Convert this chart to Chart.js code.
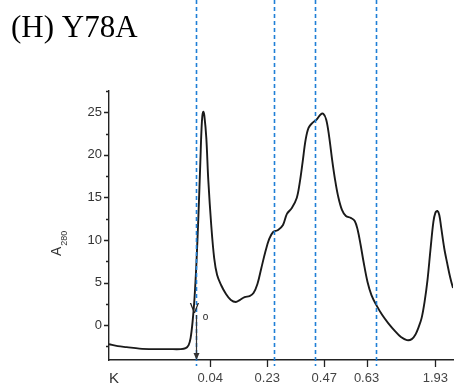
<!DOCTYPE html>
<html>
<head>
<meta charset="utf-8">
<script src="https://cdn.jsdelivr.net/npm/chart.js@4.4.1/dist/chart.umd.min.js"></script>
<style>
  html, body { margin: 0; padding: 0; background: #fff; }
  #c { display: block; }
</style>
</head>
<body>
<canvas id="c" width="459" height="387"></canvas>
<script>
// Elution volume (mL) and absorbance at 280 nm for the Y78A run
const volume = [
  0.00, 0.45, 0.90, 1.55, 2.30, 3.05, 3.65, 3.90, 4.05, 4.15,
  4.25, 4.35, 4.45, 4.55, 4.65, 4.70, 4.75, 4.80, 4.85, 4.95,
  5.05, 5.20, 5.35, 5.50, 5.70, 5.95, 6.20, 6.45, 6.65, 6.90,
  7.15, 7.35, 7.55, 7.75, 7.95, 8.15, 8.35, 8.60, 8.85, 9.05,
  9.30, 9.55, 9.70, 9.85, 10.00, 10.15, 10.35, 10.55, 10.75, 10.90,
  11.05, 11.20, 11.35, 11.50, 11.65, 11.85, 12.05, 12.30, 12.50, 12.65,
  12.80, 12.95, 13.15, 13.35, 13.60, 13.90, 14.20, 14.55, 14.85, 15.15,
  15.40, 15.60, 15.75, 15.90, 16.05, 16.20, 16.35, 16.50, 16.60, 16.70,
  16.80, 16.90, 17.05, 17.20, 17.35, 17.50, 17.65
];
const a280 = [
  -2.24, -2.47, -2.59, -2.76, -2.82, -2.82, -2.82, -2.71, -2.35, -1.53,
  0.35, 3.18, 7.41, 12.94, 19.41, 22.70, 24.60, 25.06, 24.60, 22.00,
  17.06, 11.76, 7.88, 5.88, 4.71, 3.65, 2.94, 2.71, 2.94, 3.29,
  3.41, 3.76, 4.82, 6.71, 8.59, 10.12, 10.94, 11.18, 11.76, 13.06,
  13.76, 14.94, 16.71, 19.18, 21.76, 23.18, 23.76, 24.12, 24.71, 24.82,
  24.12, 22.12, 19.41, 17.06, 15.18, 13.53, 12.82, 12.59, 12.24, 11.18,
  9.41, 7.41, 5.06, 3.53, 2.35, 1.18, 0.24, -0.71, -1.41, -1.76,
  -1.65, -1.06, -0.24, 0.82, 2.71, 5.29, 8.82, 12.12, 13.18, 13.41,
  12.94, 11.41, 9.06, 7.29, 5.65, 4.35, 3.41
];

// Kav tick marks along the volume axis
const kavTickVolumes = [5.15, 8.05, 10.95, 13.10, 16.60];
const kavTickLabels = ['0.04', '0.23', '0.47', '0.63', '1.93'];

// Fraction boundaries (dashed markers) and void volume
const boundaryVolumes = [4.45, 8.40, 10.50, 13.60];
const voidVolume = 4.45;

// Absorbance axis ticks
const yMajorTicks = [0, 5, 10, 15, 20, 25];
const yMinorTicks = [-2.5, 2.5, 7.5, 12.5, 17.5, 22.5, 27.5];

const points = volume.map((v, i) => ({ x: v, y: a280[i] }));

const AXIS_COLOR = '#222';
const TEXT_COLOR = '#333';

const decorations = {
  id: 'decorations',
  afterDraw(chart) {
    const { ctx, chartArea, scales: { x, y } } = chart;
    ctx.save();

    // tick marks on the absorbance axis
    ctx.strokeStyle = AXIS_COLOR;
    ctx.lineWidth = 1.3;
    ctx.beginPath();
    yMajorTicks.forEach(v => {
      const py = Math.round(y.getPixelForValue(v)) + 0.5;
      ctx.moveTo(chartArea.left - 5, py);
      ctx.lineTo(chartArea.left, py);
    });
    yMinorTicks.forEach(v => {
      const py = Math.round(y.getPixelForValue(v)) + 0.5;
      ctx.moveTo(chartArea.left - 3, py);
      ctx.lineTo(chartArea.left, py);
    });
    // tick marks on the volume axis
    kavTickVolumes.forEach(v => {
      const px = Math.round(x.getPixelForValue(v)) + 0.5;
      ctx.moveTo(px, chartArea.bottom);
      ctx.lineTo(px, chartArea.bottom + 7);
    });
    ctx.stroke();

    // dashed fraction boundaries
    ctx.strokeStyle = '#1f7fd6';
    ctx.lineWidth = 1.6;
    ctx.setLineDash([4, 3]);
    boundaryVolumes.forEach(v => {
      const px = Math.round(x.getPixelForValue(v)) + 0.5;
      ctx.beginPath();
      ctx.moveTo(px, 0);
      ctx.lineTo(px, chartArea.bottom + 6);
      ctx.stroke();
    });
    ctx.setLineDash([]);

    // void volume arrow
    const vx = Math.round(x.getPixelForValue(voidVolume)) + 0.5;
    ctx.strokeStyle = '#333';
    ctx.fillStyle = '#333';
    ctx.lineWidth = 1.2;
    ctx.beginPath();
    ctx.moveTo(vx, 315);
    ctx.lineTo(vx, chartArea.bottom - 6);
    ctx.stroke();
    ctx.beginPath();
    ctx.moveTo(vx - 3, chartArea.bottom - 7);
    ctx.lineTo(vx + 3, chartArea.bottom - 7);
    ctx.lineTo(vx, chartArea.bottom);
    ctx.closePath();
    ctx.fill();

    ctx.fillStyle = '#222';
    ctx.textAlign = 'center';
    ctx.textBaseline = 'alphabetic';
    ctx.font = '14px "Liberation Sans", Arial, sans-serif';
    ctx.fillText('V', vx - 2, 313);
    ctx.font = '10px "Liberation Sans", Arial, sans-serif';
    ctx.fillText('o', vx + 9, 320);

    // axis titles
    ctx.fillStyle = TEXT_COLOR;
    ctx.textAlign = 'left';
    ctx.font = '15px "Liberation Sans", Arial, sans-serif';
    ctx.fillText('K', 109, 383);
    ctx.font = '10px "Liberation Sans", Arial, sans-serif';
    ctx.fillStyle = '#777';
    ctx.fillText('av', 120, 394);

    ctx.save();
    ctx.translate(61, 256);
    ctx.rotate(-Math.PI / 2);
    ctx.fillStyle = TEXT_COLOR;
    ctx.font = '14px "Liberation Sans", Arial, sans-serif';
    ctx.fillText('A', 0, 0);
    const aw = ctx.measureText('A').width;
    ctx.font = '9px "Liberation Sans", Arial, sans-serif';
    ctx.fillText('280', aw + 1, 6);
    ctx.restore();

    // panel title
    ctx.fillStyle = '#000';
    ctx.font = '31px "Liberation Serif", "Times New Roman", serif';
    ctx.textAlign = 'left';
    ctx.fillText('(H) Y78A', 11, 37);

    ctx.restore();
  }
};

new Chart(document.getElementById('c'), {
  type: 'line',
  data: {
    datasets: [{
      data: points,
      borderColor: '#1a1a1a',
      borderWidth: 1.9,
      pointRadius: 0,
      tension: 0.35,
      fill: false
    }]
  },
  options: {
    responsive: false,
    animation: false,
    devicePixelRatio: 1,
    layout: { padding: { top: 91, left: 0, right: 0, bottom: 0 } },
    plugins: { legend: { display: false }, tooltip: { enabled: false } },
    scales: {
      x: {
        type: 'linear',
        min: 0,
        max: 17.5,
        afterBuildTicks: s => { s.ticks = kavTickVolumes.map(v => ({ value: v })); },
        afterFit: s => { s.height = 27; },
        grid: { display: false, drawTicks: false },
        border: { display: true, color: AXIS_COLOR, width: 1.4 },
        ticks: {
          autoSkip: false,
          maxRotation: 0,
          padding: 11,
          color: '#444',
          font: { family: '"Liberation Sans", Arial, sans-serif', size: 13 },
          callback: (val, i) => kavTickLabels[i]
        }
      },
      y: {
        min: -4.1,
        max: 27.5,
        afterBuildTicks: s => { s.ticks = yMajorTicks.map(v => ({ value: v })); },
        afterFit: s => { s.width = 109; },
        grid: { display: false, drawTicks: false },
        border: { display: true, color: AXIS_COLOR, width: 1.4 },
        ticks: {
          padding: 7,
          color: TEXT_COLOR,
          font: { family: '"Liberation Sans", Arial, sans-serif', size: 13 },
          callback: v => String(v)
        }
      }
    }
  },
  plugins: [decorations]
});
</script>
</body>
</html>
